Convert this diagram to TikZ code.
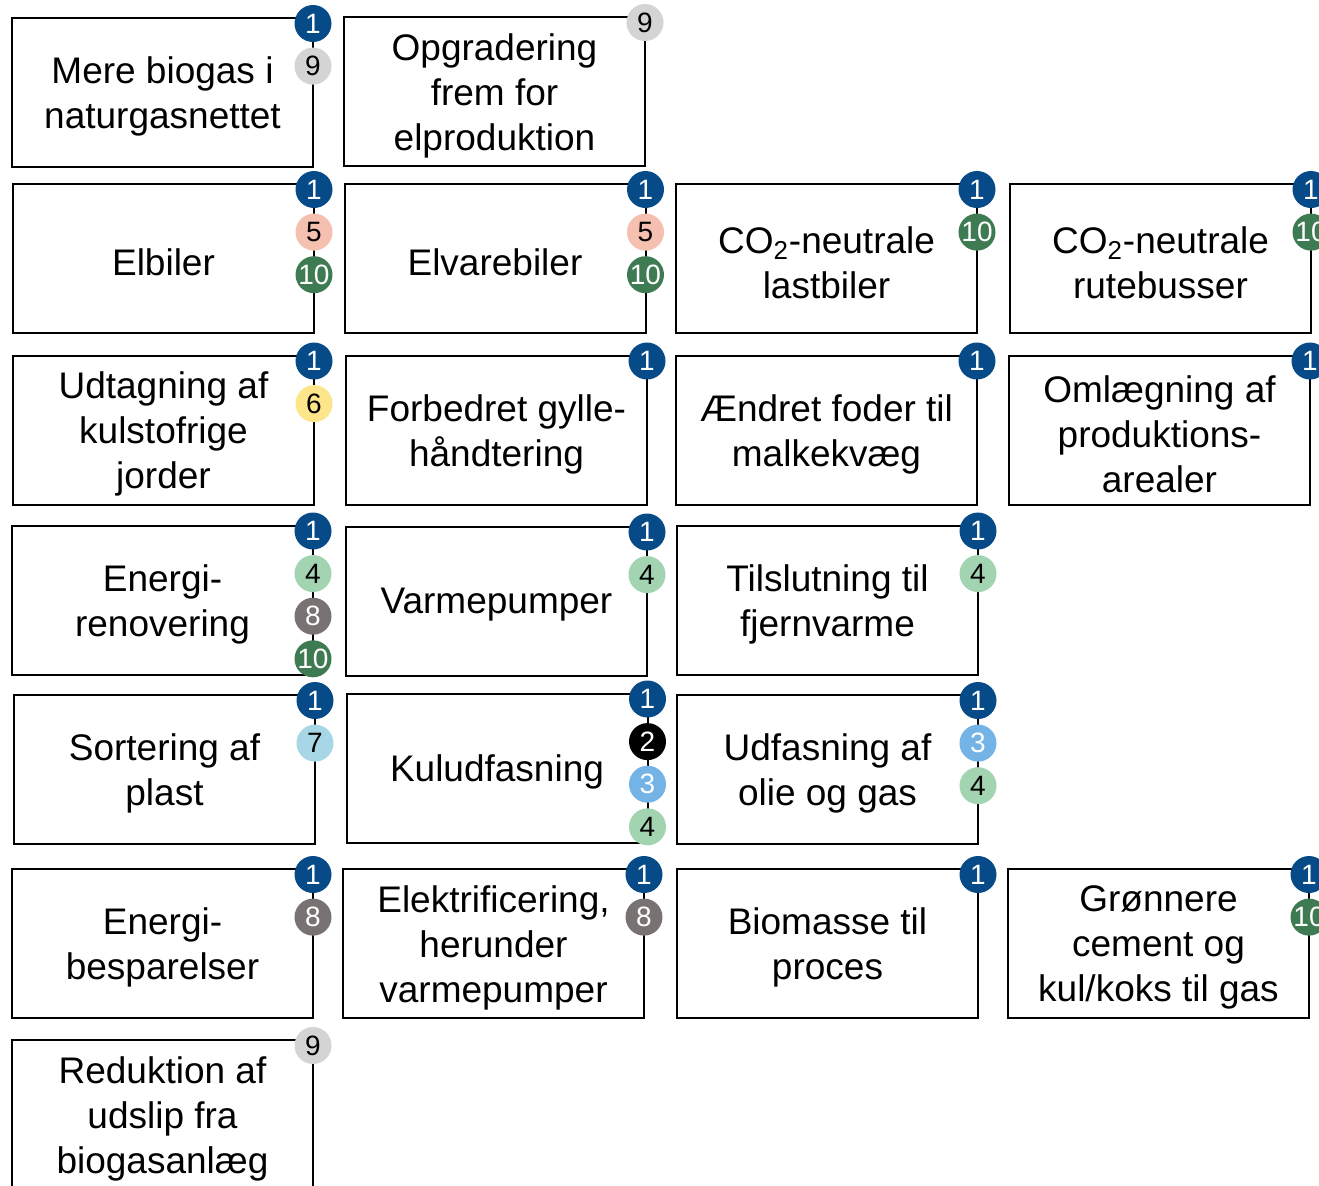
\documentclass[tikz,border=0pt]{standalone}
\usepackage{fontspec}
\setmainfont{Liberation Sans}
\usetikzlibrary{calc}
\definecolor{k1}{HTML}{064A87}
\definecolor{k2}{HTML}{000000}
\definecolor{k3}{HTML}{74B3E6}
\definecolor{k4}{HTML}{A3D4B2}
\definecolor{k5}{HTML}{F5C0B0}
\definecolor{k6}{HTML}{FDE68A}
\definecolor{k7}{HTML}{A7D7E6}
\definecolor{k8}{HTML}{787372}
\definecolor{k9}{HTML}{D4D4D4}
\definecolor{k10}{HTML}{3F7B52}
\tikzset{
  mbox/.style={draw, line width=1pt, minimum width=150.5pt, minimum height=74.5pt, inner sep=0pt},
  mtext/.style={inner sep=0pt, align=center, font=\fontsize{18.5}{22.5}\selectfont},
  badge/.style={circle, minimum size=18.5pt, inner sep=0pt, font=\fontsize{14}{14}\selectfont},
  bc1/.style={fill=k1, text=white},
  bc2/.style={fill=k2, text=white},
  bc3/.style={fill=k3, text=white},
  bc4/.style={fill=k4, text=black},
  bc5/.style={fill=k5, text=black},
  bc6/.style={fill=k6, text=black},
  bc7/.style={fill=k7, text=black},
  bc8/.style={fill=k8, text=white},
  bc9/.style={fill=k9, text=black},
  bc10/.style={fill=k10, text=white},
}
\newcommand\mkbox[3]{%
  \node[mbox] (#1) at (#2) {};
  \node[mtext] (#1t) at ($(#2)+(0,4)$) {#3};
}
\newcommand\mkbadges[2]{%
  \foreach \n [count=\i] in {#2} {%
    \node[badge, bc\n] (#1-\i) at ($(#1.north east)+(-1,{6.5+42.6*(\i-1)})$) {\n};
  }%
}
\begin{document}
\begin{tikzpicture}[x=0.5pt,y=-0.5pt]
\clip (0,0) rectangle (1319,1185);
\fill[white] (0,0) rectangle (1319,1185);
% row 1
\mkbox{a}{162.5,92.5}{Mere biogas i\\naturgasnettet}
\mkbox{b}{494.5,91.5}{Opgradering\\frem for\\elproduktion}
% row 2
\mkbox{c}{163.5,258.5}{Elbiler}
\mkbox{d}{495,258.5}{Elvarebiler}
\mkbox{e}{826.5,258.5}{CO\textsubscript{2}-neutrale\\lastbiler}
\mkbox{f}{1160.5,258.5}{CO\textsubscript{2}-neutrale\\rutebusser}
% row 3
\mkbox{g}{163.5,430}{Udtagning af\\kulstofrige\\jorder}
\mkbox{h}{496.5,430}{Forbedret gylle-\\håndtering}
\mkbox{i}{826.5,430}{Ændret foder til\\malkekvæg}
\mkbox{j}{1159.5,430}{Omlægning af\\produktions-\\arealer}
% row 4
\mkbox{k}{162.5,600}{Energi-\\renovering}
\mkbox{l}{496.5,601}{Varmepumper}
\mkbox{m}{827.5,600}{Tilslutning til\\fjernvarme}
% row 5
\mkbox{n}{164.5,769.5}{Sortering af\\plast}
\mkbox{o}{497,768}{Kuludfasning}
\mkbox{p}{827.5,769.5}{Udfasning af\\olie og gas}
% row 6
\mkbox{q}{162.5,943.5}{Energi-\\besparelser}
\mkbox{r}{493.5,943.5}{Elektrificering,\\herunder\\varmepumper}
\mkbox{s}{827.5,943.5}{Biomasse til\\proces}
\mkbox{t}{1158.5,943.5}{Grønnere\\cement og\\kul/koks til gas}
% row 7
\mkbox{u}{162.5,1114.5}{Reduktion af\\udslip fra\\biogasanlæg}
% badges
\mkbadges{a}{1,9}
\mkbadges{b}{9}
\mkbadges{c}{1,5,10}
\mkbadges{d}{1,5,10}
\mkbadges{e}{1,10}
\mkbadges{f}{1,10}
\mkbadges{g}{1,6}
\mkbadges{h}{1}
\mkbadges{i}{1}
\mkbadges{j}{1}
\mkbadges{k}{1,4,8,10}
\mkbadges{l}{1,4}
\mkbadges{m}{1,4}
\mkbadges{n}{1,7}
\mkbadges{o}{1,2,3,4}
\mkbadges{p}{1,3,4}
\mkbadges{q}{1,8}
\mkbadges{r}{1,8}
\mkbadges{s}{1}
\mkbadges{t}{1,10}
\mkbadges{u}{9}
\end{tikzpicture}
\end{document}
